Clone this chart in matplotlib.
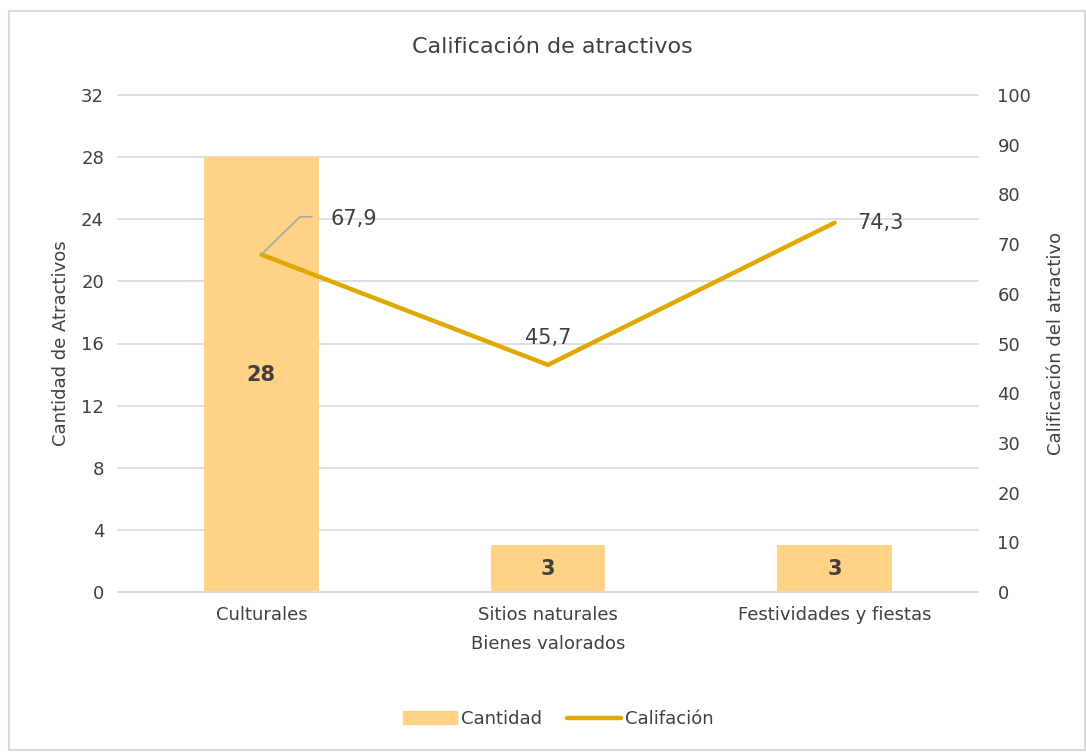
import matplotlib
matplotlib.use("Agg")
import matplotlib.pyplot as plt
from matplotlib.patches import Rectangle
from matplotlib.lines import Line2D

categories = ["Culturales", "Sitios naturales", "Festividades y fiestas"]
cantidad = [28, 3, 3]
calificacion = [67.9, 45.7, 74.3]
left_ticks = [0, 4, 8, 12, 16, 20, 24, 28, 32]
right_ticks = [0, 10, 20, 30, 40, 50, 60, 70, 80, 90, 100]

plt.rcParams['font.family'] = ['DejaVu Sans']
TXT = "#404040"
BAR = "#FFD285"
LINE = "#E0A800"
GRID = "#D9D9D9"

fig = plt.figure(figsize=(10.86, 7.52), dpi=100)
fig.patches.append(Rectangle((9/1086, 1 - 750/752), 1076/1086, 739/752, transform=fig.transFigure,
                             fill=False, edgecolor="#D9D9D9", linewidth=1.5))

ax = fig.add_axes([118/1086, 1 - 592/752, 860/1086, 497/752])
x = list(range(len(categories)))
ax.bar(x, cantidad, width=0.4, color=BAR, zorder=2)
ax.set_xlim(-0.5, 2.5)
ax.set_ylim(0, 32)
ax.set_yticks(left_ticks)
ax.grid(axis="y", color=GRID, linewidth=1.2, zorder=0)
for gl in ax.yaxis.get_gridlines():
    gl.set_clip_on(False)
ax.set_axisbelow(True)
for s in ["top", "right", "left"]:
    ax.spines[s].set_visible(False)
ax.spines["bottom"].set_color(GRID)
ax.spines["bottom"].set_linewidth(1.2)
ax.tick_params(axis="both", length=0, labelsize=13, colors=TXT, pad=10)
ax.set_xticks(x)
ax.set_xticklabels(categories)
ax.set_ylabel("Cantidad de Atractivos", fontsize=13, color=TXT, labelpad=8)
ax.set_xlabel("Bienes valorados", fontsize=13, color=TXT, labelpad=8)

for xi, v in zip(x, cantidad):
    ax.text(xi, v / 2, str(v), ha="center", va="center",
            fontsize=15, fontweight="bold", color=TXT, zorder=4)

ax2 = ax.twinx()
ax2.set_ylim(0, 100)
ax2.set_yticks(right_ticks)
for s in ["top", "right", "left", "bottom"]:
    ax2.spines[s].set_visible(False)
ax2.tick_params(axis="y", length=0, labelsize=13, colors=TXT, pad=14)
ax2.set_ylabel("Calificación del atractivo", fontsize=13, color=TXT, labelpad=11)
ax2.plot(x, calificacion, color=LINE, linewidth=3.2, solid_capstyle="round", zorder=3)

# data labels
ax2.plot([0, 0.135, 0.175], [calificacion[0], 75.5, 75.5], color="#A6A6A6", linewidth=1.2, zorder=4)
ax2.annotate(f"{calificacion[0]:.1f}".replace(".", ","), (0.24, 75.0), ha="left", va="center",
             fontsize=15, color=TXT)
ax2.annotate(f"{calificacion[1]:.1f}".replace(".", ","), (1, calificacion[1] + 5.5), ha="center", va="center",
             fontsize=15, color=TXT)
ax2.annotate(f"{calificacion[2]:.1f}".replace(".", ","), (2.08, calificacion[2]), ha="left", va="center",
             fontsize=15, color=TXT)

fig.text(552/1086, 1 - 47/752, "Calificación de atractivos", ha="center", va="center",
         fontsize=16, color=TXT)

handles = [Rectangle((0, 0), 1, 1, color=BAR),
           Line2D([0], [0], color=LINE, linewidth=3.2, solid_capstyle="round")]
fig.legend(handles, ["Cantidad", "Califación"], loc="center", bbox_to_anchor=(558/1086, 1 - 719/752),
           ncol=2, frameon=False, fontsize=13, handlelength=3.0, handletextpad=0.2, columnspacing=1.4,
           labelcolor=TXT)

fig.savefig("out.png", dpi=100)
